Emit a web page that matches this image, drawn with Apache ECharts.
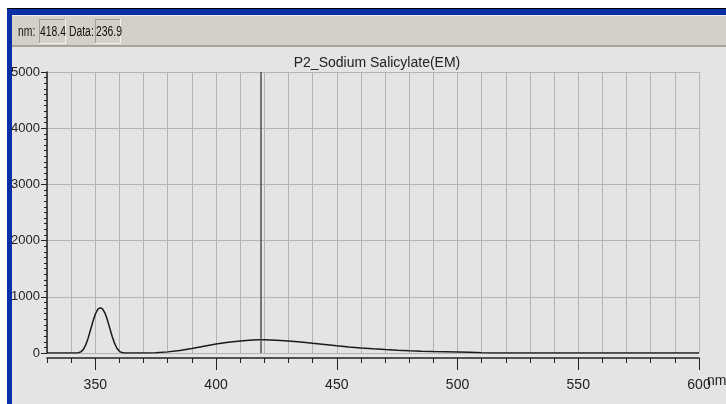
<!DOCTYPE html>
<html><head><meta charset="utf-8">
<script src="https://cdn.jsdelivr.net/npm/echarts@6/dist/echarts.min.js"></script>
<style>html,body{margin:0;padding:0;background:#fff}#c{width:726px;height:404px}</style>
</head><body><div id="c"></div>
<script>
var wavelengths = [330,335,340,342,343,344,345,346,347,348,349,350,351,352,353,354,355,356,357,358,359,360,361,362,365,370,375,380,385,390,395,400,405,410,415,418,420,425,430,435,440,445,450,455,460,465,470,475,480,485,490,495,500,505,510,515,520,540,560,580,600];
var intensity   = [0,0,0,0,5,20,60,140,260,410,560,690,775,805,785,710,590,440,295,170,80,30,8,0,0,0,5,20,45,80,120,160,190,215,232,237,236,228,212,195,172,150,128,108,90,75,62,50,40,32,27,24,20,14,5,0,0,0,0,0,0];
var cursorNm = 418.4, cursorData = 236.9;
var xTickLabels = [350,400,450,500,550,600];
var yTickLabels = [0,1000,2000,3000,4000,5000];
var chartTitle = 'P2_Sodium Salicylate(EM)';

var FONT = "'Liberation Sans','Arial',sans-serif";
var data = wavelengths.map(function(w,i){return [w, intensity[i]];});
var chart = echarts.init(document.getElementById('c'), null, {renderer:'canvas'});

function txt(x, t){
  return {type:'text', x:x, y:32, scaleX:0.74, style:{text:t, font:'14px '+FONT, fill:'#111', verticalAlign:'middle'}};
}
function box(x, w, t){
  return {type:'group', children:[
    {type:'rect', shape:{x:x,y:19,width:w,height:25}, style:{fill:'#d4d0c8', stroke:null}},
    {type:'line', shape:{x1:x,y1:19.5,x2:x+w,y2:19.5}, style:{stroke:'#a09c94',lineWidth:1}},
    {type:'line', shape:{x1:x+0.5,y1:19,x2:x+0.5,y2:44}, style:{stroke:'#a09c94',lineWidth:1}},
    {type:'line', shape:{x1:x,y1:43.5,x2:x+w,y2:43.5}, style:{stroke:'#f4f2ee',lineWidth:1}},
    {type:'line', shape:{x1:x+w-0.5,y1:19,x2:x+w-0.5,y2:44}, style:{stroke:'#f4f2ee',lineWidth:1}},
    txt(x+1, t)
  ]};
}

chart.setOption({
  animation:false,
  backgroundColor:'#ffffff',
  graphic:[
    {type:'rect', z:-10, shape:{x:12,y:47,width:714,height:357}, style:{fill:'#e4e4e4'}},
    {type:'rect', shape:{x:7,y:8,width:719,height:1}, style:{fill:'#000'}},
    {type:'rect', shape:{x:7,y:9,width:719,height:6}, style:{fill:'#0a2fa6'}},
    {type:'rect', shape:{x:7,y:9,width:5,height:395}, style:{fill:'#0a2fa6'}},
    {type:'rect', shape:{x:12,y:15,width:714,height:32}, style:{fill:'#d4d0c8'}},
    {type:'rect', shape:{x:12,y:15,width:714,height:1}, style:{fill:'#eeebe4'}},
    {type:'rect', shape:{x:12,y:45,width:714,height:2}, style:{fill:'#a8a49c'}},
    txt(18, 'nm:'),
    box(39, 27, String(cursorNm)),
    txt(69, 'Data:'),
    box(95, 26, String(cursorData))
  ],
  title:{text:chartTitle, left:372, top:51, textAlign:'center',
    textStyle:{fontFamily:FONT, fontSize:14, fontWeight:'normal', color:'#222'}},
  grid:{left:47, right:27, top:72, bottom:51, containLabel:false, outerBoundsMode:'none'},
  xAxis:[{
    type:'value', min:330, max:600, interval:10, offset:5,
    axisLine:{show:true, onZero:false, lineStyle:{color:'#222', width:1.5}},
    axisTick:{show:true, length:5, lineStyle:{color:'#222'}},
    axisLabel:{show:false},
    splitLine:{show:true, lineStyle:{color:'#b4b4b4', width:1}},
    name:'nm', nameLocation:'end', nameGap:8,
    nameTextStyle:{fontFamily:FONT, fontSize:14, color:'#222', verticalAlign:'top', padding:[16,0,0,0]}
  },{
    type:'value', min:330, max:600, offset:5, position:'bottom',
    axisLine:{show:false, onZero:false},
    axisTick:{show:true, length:12, customValues:xTickLabels, lineStyle:{color:'#222'}},
    axisLabel:{show:true, customValues:xTickLabels, margin:20, fontFamily:FONT, fontSize:14, color:'#222'},
    splitLine:{show:false}
  }],
  yAxis:{
    type:'value', min:0, max:5000, interval:1000,
    axisLine:{show:true, lineStyle:{color:'#222', width:1.5}},
    axisTick:{show:true, length:6, lineStyle:{color:'#222'}},
    minorTick:{show:true, splitNumber:10, length:3, lineStyle:{color:'#222'}},
    axisLabel:{margin:7, fontFamily:FONT, fontSize:13, color:'#222',
      formatter:function(v){return yTickLabels.indexOf(v) >= 0 ? String(v) : '';}},
    splitLine:{show:true, lineStyle:{color:'#b4b4b4', width:1}}
  },
  series:[{
    type:'line', data:data, xAxisIndex:0, showSymbol:false, symbol:'none', smooth:false,
    lineStyle:{color:'#1a1a1a', width:1.5},
    markLine:{silent:true, symbol:'none', label:{show:false},
      lineStyle:{color:'#505050', type:'solid', width:1.5},
      data:[{xAxis:cursorNm}]}
  }]
});
</script></body></html>
